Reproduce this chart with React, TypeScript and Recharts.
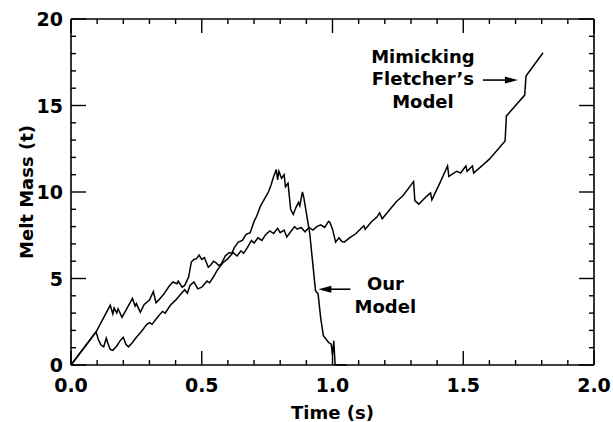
import { LineChart, Line, XAxis, YAxis, ReferenceDot } from 'recharts'

// "Our Model" series (time s, melt mass t)
const ourTime = [
  0, 0.096, 0.15, 0.16, 0.165, 0.175, 0.18, 0.195, 0.215, 0.235, 0.245, 0.25, 0.265, 0.28, 0.3, 0.315,
  0.325, 0.335, 0.355, 0.375, 0.39, 0.405, 0.41, 0.425, 0.435, 0.45, 0.46, 0.47, 0.48, 0.49, 0.5, 0.51,
  0.525, 0.535, 0.545, 0.555, 0.565, 0.575, 0.59, 0.605, 0.615, 0.625, 0.64, 0.655, 0.67, 0.685, 0.7,
  0.71, 0.725, 0.74, 0.755, 0.765, 0.775, 0.785, 0.79, 0.795, 0.805, 0.815, 0.82, 0.83, 0.84, 0.85,
  0.86, 0.87, 0.875, 0.885, 0.89, 0.9, 0.913, 0.925, 0.935, 0.945, 0.955, 0.965, 0.975, 0.985, 0.995,
  1.0, 1.005, 1.01, 1.055,
]
const ourMass = [
  0, 1.92, 3.45, 2.95, 3.3, 3.0, 3.25, 2.75, 3.3, 3.85, 3.4, 3.55, 3.05, 3.5, 3.75, 4.25,
  3.6, 3.75, 4.1, 4.55, 4.8, 4.7, 4.85, 4.5, 4.6, 5.1, 5.95, 6.1, 6.15, 6.35, 6.1, 6.2,
  5.65, 5.8, 6.0, 5.9, 5.75, 5.85, 6.3, 6.5, 6.45, 6.8, 7.1, 7.2, 7.55, 7.65, 8.3,
  8.6, 9.2, 9.6, 10.0, 10.4, 10.9, 11.3, 10.7, 11.2, 10.8, 11.0, 10.3, 10.5, 9.0, 8.7,
  9.1, 9.4, 9.2, 10.0, 9.7, 8.8, 7.6, 5.8, 4.3, 4.1, 2.7, 1.7, 1.5, 1.3, 1.2,
  0.6, 1.4, 0, 0,
]

// "Mimicking Fletcher's Model" series
const fletcherTime = [
  0, 0.096, 0.105, 0.115, 0.125, 0.135, 0.14, 0.15, 0.16, 0.175, 0.19, 0.2, 0.21, 0.22, 0.235, 0.25,
  0.27, 0.29, 0.3, 0.31, 0.33, 0.35, 0.36, 0.38, 0.4, 0.42, 0.435, 0.445, 0.455, 0.47, 0.485, 0.5,
  0.52, 0.53, 0.545, 0.56, 0.58, 0.6, 0.62, 0.635, 0.65, 0.66, 0.675, 0.69, 0.7, 0.715, 0.73, 0.745,
  0.76, 0.775, 0.79, 0.8, 0.815, 0.825, 0.84, 0.855, 0.865, 0.88, 0.895, 0.91, 0.925, 0.94, 0.955,
  0.97, 0.985, 0.99, 1.0, 1.012, 1.025, 1.035, 1.045, 1.065, 1.09, 1.11, 1.12, 1.125, 1.15, 1.17,
  1.18, 1.19, 1.22, 1.245, 1.27, 1.3, 1.31, 1.315, 1.33, 1.36, 1.375, 1.38, 1.41, 1.44, 1.445, 1.475,
  1.49, 1.51, 1.515, 1.535, 1.54, 1.6, 1.66, 1.665, 1.735, 1.74, 1.805,
]
const fletcherMass = [
  0, 1.92, 1.45, 1.15, 1.05, 1.55, 1.3, 0.9, 0.85, 1.1, 1.45, 1.6, 1.2, 1.05, 1.3, 1.6,
  1.95, 2.35, 2.45, 2.35, 2.75, 3.1, 3.0, 3.45, 3.75, 4.1, 4.35, 4.15, 4.6, 4.8, 4.4, 4.5,
  4.85, 4.75, 5.1, 5.5, 5.9, 6.15, 6.5, 6.3, 6.6, 6.45, 6.8, 7.2, 7.05, 7.35, 7.2, 7.55,
  7.75, 7.6, 7.9, 7.65, 7.8, 7.4, 7.7, 8.0, 7.85, 7.95, 7.7, 7.95, 7.8, 8.0, 8.1,
  7.95, 8.3, 8.25, 7.85, 7.1, 7.35, 7.15, 7.1, 7.35, 7.6, 7.9, 8.05, 7.85, 8.3, 8.55,
  8.8, 8.45, 9.0, 9.45, 9.8, 10.4, 10.6, 9.5, 9.3, 9.75, 9.95, 9.55, 10.5, 11.5, 10.9, 11.2,
  11.1, 11.5, 11.2, 11.5, 11.1, 11.9, 12.95, 14.4, 15.6, 16.7, 18.05,
]

const timeTicks = Array.from({ length: 21 }, (_, i) => i / 10)
const massTicks = Array.from({ length: 21 }, (_, i) => i)

const ourData = ourTime.map((t, i) => ({ t, m: ourMass[i] }))
const fletcherData = fletcherTime.map((t, i) => ({ t, m: fletcherMass[i] }))

const PL = 71
const PR = 594
const PT = 19
const PB = 365

const FONT = 'DejaVu Sans, Arial, sans-serif'

const isMajor = (v: number, step: number) => Math.abs(v / step - Math.round(v / step)) < 1e-6

// axis tick labels (only the major values get text)
const TimeLabel = ({ x, payload }: any) =>
  isMajor(payload.value, 0.5) ? (
    <text x={x} y={PB + 27} textAnchor="middle" fontFamily={FONT} fontWeight="bold" fontSize={19} fill="black">
      {payload.value.toFixed(1)}
    </text>
  ) : (
    <g />
  )

const MassLabel = ({ y, payload }: any) =>
  isMajor(payload.value, 5) ? (
    <text x={PL - 8} y={y + 7} textAnchor="end" fontFamily={FONT} fontWeight="bold" fontSize={19} fill="black">
      {payload.value}
    </text>
  ) : (
    <g />
  )

// inward tick marks on bottom and top frame, anchored at (t, 0)
const TimeMark = ({ cx, cy, tickValue }: any) => {
  const len = isMajor(tickValue, 0.5) ? 14 : 5
  return (
    <g>
      <line x1={cx} x2={cx} y1={cy} y2={cy - len} stroke="black" strokeWidth={1.4} />
      <line x1={cx} x2={cx} y1={PT} y2={PT + len} stroke="black" strokeWidth={1.4} />
    </g>
  )
}

// inward tick marks on left and right frame, anchored at (0, m)
const MassMark = ({ cx, cy, tickValue }: any) => {
  const len = isMajor(tickValue, 5) ? 15 : 5
  return (
    <g>
      <line x1={cx} x2={cx + len} y1={cy} y2={cy} stroke="black" strokeWidth={1.4} />
      <line x1={PR} x2={PR - len} y1={cy} y2={cy} stroke="black" strokeWidth={1.4} />
    </g>
  )
}

// top and right frame edges, anchored at the (2, 20) corner
const FrameCorner = ({ cx, cy }: any) => (
  <g>
    <line x1={PL} x2={cx} y1={cy} y2={cy} stroke="black" strokeWidth={1.6} />
    <line x1={cx} x2={cx} y1={cy} y2={PB} stroke="black" strokeWidth={1.6} />
  </g>
)

const Arrow = ({ x1, x2, y }: { x1: number; x2: number; y: number }) => {
  // arrow pointing to x2
  const dir = x2 > x1 ? 1 : -1
  return (
    <g>
      <line x1={x1} x2={x2 - dir * 10} y1={y} y2={y} stroke="black" strokeWidth={1.6} />
      <polygon points={`${x2},${y} ${x2 - dir * 13},${y - 3.5} ${x2 - dir * 13},${y + 3.5}`} fill="black" />
    </g>
  )
}

const textStyle = { fontFamily: FONT, fontWeight: 'bold' as const, fontSize: 18, fill: 'black' }

const FletcherNote = ({ cx, cy }: any) => (
  <g>
    <Arrow x1={cx - 35} x2={cx} y={cy} />
    <text x={cx - 95} textAnchor="middle" style={textStyle}>
      <tspan x={cx - 95} y={cy - 17}>Mimicking</tspan>
      <tspan x={cx - 95} y={cy + 5}>Fletcher’s</tspan>
      <tspan x={cx - 95} y={cy + 28}>Model</tspan>
    </text>
  </g>
)

const OurNote = ({ cx, cy }: any) => (
  <g>
    <Arrow x1={cx + 32} x2={cx} y={cy} />
    <text x={cx + 67} textAnchor="middle" style={textStyle}>
      <tspan x={cx + 67} y={cy + 1}>Our</tspan>
      <tspan x={cx + 67} y={cy + 24}>Model</tspan>
    </text>
  </g>
)

export default function App() {
  return (
    <div style={{ position: 'absolute', left: 0, top: 0 }}>
      <LineChart width={613} height={422} margin={{ top: 19, right: 19, bottom: 0, left: 0 }}>
        <XAxis
          dataKey="t"
          type="number"
          domain={[0, 2]}
          ticks={timeTicks}
          interval={0}
          height={57}
          tickLine={false}
          tick={<TimeLabel />}
          axisLine={{ stroke: 'black', strokeWidth: 1.6 }}
          label={{ value: 'Time (s)', position: 'insideBottom', offset: 3, style: textStyle }}
        />
        <YAxis
          type="number"
          domain={[0, 20]}
          ticks={massTicks}
          interval={0}
          width={71}
          tickLine={false}
          tick={<MassLabel />}
          axisLine={{ stroke: 'black', strokeWidth: 1.6 }}
          label={{
            value: 'Melt Mass (t)',
            angle: -90,
            position: 'insideLeft',
            offset: 27,
            style: { ...textStyle, textAnchor: 'middle' },
          }}
        />
        <Line data={fletcherData} dataKey="m" type="linear" stroke="black" strokeWidth={1.5} dot={false} isAnimationActive={false} />
        <Line data={ourData} dataKey="m" type="linear" stroke="black" strokeWidth={1.5} dot={false} isAnimationActive={false} />
        {timeTicks.map((t) => (
          <ReferenceDot key={`tm-${t}`} x={t} y={0} r={0} ifOverflow="visible" shape={<TimeMark tickValue={t} />} />
        ))}
        {massTicks.map((m) => (
          <ReferenceDot key={`mm-${m}`} x={0} y={m} r={0} ifOverflow="visible" shape={<MassMark tickValue={m} />} />
        ))}
        <ReferenceDot x={2} y={20} r={0} ifOverflow="visible" shape={<FrameCorner />} />
        <ReferenceDot x={1.709} y={16.47} r={0} shape={<FletcherNote />} />
        <ReferenceDot x={0.946} y={4.38} r={0} shape={<OurNote />} />
      </LineChart>
    </div>
  )
}
